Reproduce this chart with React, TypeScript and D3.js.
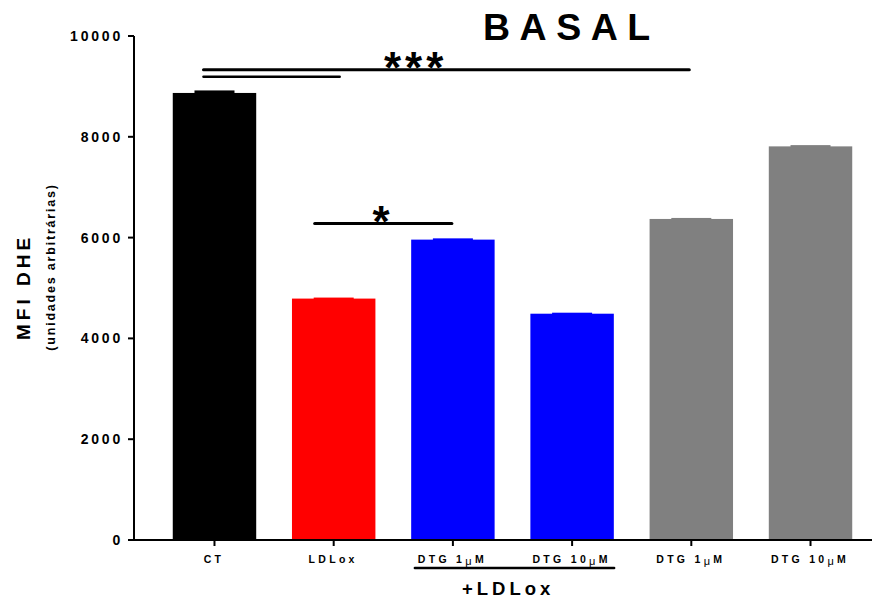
import React from "react";
import * as d3 from "d3";

// bars, left to right
const categories = ["CT", "LDLox", "DTG 1", "DTG 10", "DTG 1", "DTG 10"];
const hasMicro = [false, false, true, true, true, true];
const values = [8870, 4790, 5960, 4490, 6370, 7810];
const errors = [50, 20, 25, 20, 20, 25];
const colors = ["#000000", "#ff0000", "#0000ff", "#0000ff", "#808080", "#808080"];
const yTicks = [0, 2000, 4000, 6000, 8000, 10000];

// significance brackets: height in data units
const sigLevels = [9330, 9190, 6280];

const W = 880;
const H = 598;
const left = 134;
const axisRight = 872;
const top = 36;
const bottom = 540;

export default function App() {
  const y = d3.scaleLinear().domain([0, 10000]).range([bottom, top]);
  const x = d3
    .scaleBand<number>()
    .domain(d3.range(categories.length))
    .range([137, 888])
    .paddingInner(0.3)
    .paddingOuter(0.3);
  const bw = x.bandwidth();
  const cx = (i: number) => (x(i) as number) + bw / 2;
  const font = "'Liberation Sans', Arial, sans-serif";

  return (
    <svg width={W} height={H} style={{ display: "block", position: "absolute", left: 0, top: 0 }} fontFamily={font}>
      <rect width={W} height={H} fill="#fff" />
      {/* title */}
      <text x={483} y={40} fontSize={37.5} fontWeight="bold" letterSpacing={9.5}>
        BASAL
      </text>

      {/* bars */}
      {values.map((v, i) => (
        <g key={i}>
          <rect x={x(i)} y={y(v)} width={bw} height={bottom - y(v)} fill={colors[i]} />
          <rect x={cx(i) - 20} y={y(v + errors[i])} width={40} height={y(v) - y(v + errors[i]) + 1} fill={colors[i]} />
        </g>
      ))}

      {/* y axis */}
      <line x1={left} x2={left} y1={top} y2={bottom} stroke="#000" strokeWidth={2} />
      {yTicks.map((t) => (
        <g key={t}>
          <line x1={left - 6} x2={left} y1={y(t)} y2={y(t)} stroke="#000" strokeWidth={2} />
          <text x={left - 11} y={y(t)} dy="0.36em" textAnchor="end" fontSize={14} fontWeight="bold" letterSpacing={2.8}>
            {t}
          </text>
        </g>
      ))}
      <text transform={`translate(30,287) rotate(-90)`} textAnchor="middle" fontSize={19} fontWeight="bold" letterSpacing={4}>
        MFI DHE
      </text>
      <text transform={`translate(55,267) rotate(-90)`} textAnchor="middle" fontSize={12.5} fontWeight="bold" letterSpacing={1.8}>
        (unidades arbitrárias)
      </text>

      {/* x axis */}
      <line x1={left - 1} x2={axisRight} y1={bottom} y2={bottom} stroke="#000" strokeWidth={2} />
      {categories.map((c, i) => (
        <g key={i}>
          <line x1={cx(i)} x2={cx(i)} y1={bottom} y2={bottom + 6} stroke="#000" strokeWidth={2} />
          <text x={cx(i) - 0.5} y={562.5} textAnchor="middle" fontSize={10.5} fontWeight="bold" letterSpacing={3.3}>
            {c}
            {hasMicro[i] && (
              <tspan fontWeight="normal" fontSize={11} dy={2}>μ</tspan>
            )}
            {hasMicro[i] && <tspan dy={-2}>M</tspan>}
          </text>
        </g>
      ))}
      <line x1={cx(2) - 38} x2={cx(3) + 42} y1={568} y2={568} stroke="#000" strokeWidth={2.5} strokeLinecap="round" />
      <text x={462} y={595} fontSize={18.5} fontWeight="bold" letterSpacing={4}>
        +LDLox
      </text>

      {/* significance */}
      <line x1={cx(0) - 11} x2={cx(4) - 2} y1={y(sigLevels[0])} y2={y(sigLevels[0])} stroke="#000" strokeWidth={3} strokeLinecap="round" />
      <line x1={cx(0) - 11} x2={cx(1) + 6} y1={y(sigLevels[1])} y2={y(sigLevels[1])} stroke="#000" strokeWidth={2.5} strokeLinecap="round" />
      <text x={384} y={83} fontSize={44} fontWeight="bold" letterSpacing={4}>
        ***
      </text>
      <line x1={cx(1) - 19} x2={cx(2) - 1} y1={y(sigLevels[2])} y2={y(sigLevels[2])} stroke="#000" strokeWidth={3} strokeLinecap="round" />
      <text x={372.5} y={237} fontSize={44} fontWeight="bold">
        *
      </text>
    </svg>
  );
}
